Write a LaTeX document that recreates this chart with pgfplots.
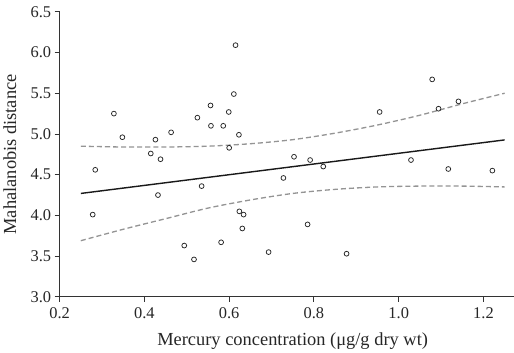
\documentclass[border=0pt]{standalone}
\usepackage{fontspec}
\setmainfont{Liberation Serif}
\usepackage{pgfplots}
\pgfplotsset{compat=1.18}
\begin{document}
\begin{tikzpicture}
\begin{axis}[
  scale only axis, width=451pt, height=283.3pt,
  xmin=0.2, xmax=1.271, ymin=3, ymax=6.5,
  axis lines=left, axis line style={-, line width=0.9pt, black!80},
  xtick={0.2,0.4,...,1.21}, ytick={3,3.5,...,6.6},
  tick style={black!80, line width=0.9pt},
  tick align=outside, major tick length=5pt,
  xticklabel style={yshift=-2pt, /pgf/number format/.cd, fixed, fixed zerofill, precision=1},
  yticklabel style={/pgf/number format/.cd, fixed, fixed zerofill, precision=1},
  /pgf/number format/assume math mode=true,
  ticklabel style={font=\fontsize{16.3}{18}\selectfont, text=black!85},
  label style={font=\fontsize{18.3}{21}\selectfont, text=black!85},
  xlabel={Mercury concentration (μg/g dry wt)},
  ylabel={Mahalanobis distance},
  xlabel style={at={(axis description cs:0.5,0)}, anchor=base, yshift=-48pt, xshift=6pt},
  ylabel style={at={([xshift=-49.5pt]axis description cs:0,0.5)}, anchor=center},
  clip=false,
]
\path (axis description cs:0,1) -- ++(0pt,11.7pt);
\addplot[only marks, mark=o, mark size=2.4pt, mark options={line width=0.75pt, black!85}] coordinates {
(0.615,6.09) (0.328,5.25) (0.348,4.96) (0.284,4.56) (0.426,4.93) (0.415,4.76)
(0.438,4.69) (0.463,5.02) (0.525,5.20) (0.556,5.35) (0.557,5.10) (0.586,5.10)
(0.599,5.27) (0.611,5.49) (0.623,4.99) (0.600,4.83)
(1.079,5.67) (0.955,5.27) (1.094,5.31) (1.141,5.40) (0.753,4.72) (0.791,4.68)
(0.822,4.60) (0.728,4.46) (1.029,4.68) (1.117,4.57) (1.221,4.55)
(0.278,4.01) (0.432,4.25) (0.535,4.36) (0.494,3.63) (0.517,3.46) (0.581,3.67)
(0.624,4.05) (0.634,4.01) (0.631,3.84)
(0.693,3.55) (0.785,3.89) (0.877,3.53)
};
\addplot[line width=1.4pt, black!90] coordinates {(0.25,4.27) (1.25,4.927)};
\addplot[smooth, dash pattern=on 5pt off 3pt, line width=1.3pt, black!42] coordinates {
(0.25,4.85) (0.35,4.84) (0.45,4.84) (0.55,4.85) (0.65,4.88) (0.75,4.93)
(0.85,5.01) (0.95,5.11) (1.05,5.23) (1.15,5.37) (1.25,5.50)};
\addplot[smooth, dash pattern=on 5pt off 3pt, line width=1.3pt, black!42] coordinates {
(0.25,3.69) (0.35,3.83) (0.45,3.96) (0.55,4.09) (0.65,4.19) (0.75,4.27)
(0.85,4.32) (0.95,4.35) (1.05,4.36) (1.15,4.36) (1.25,4.35)};
\end{axis}
\end{tikzpicture}
\end{document}
